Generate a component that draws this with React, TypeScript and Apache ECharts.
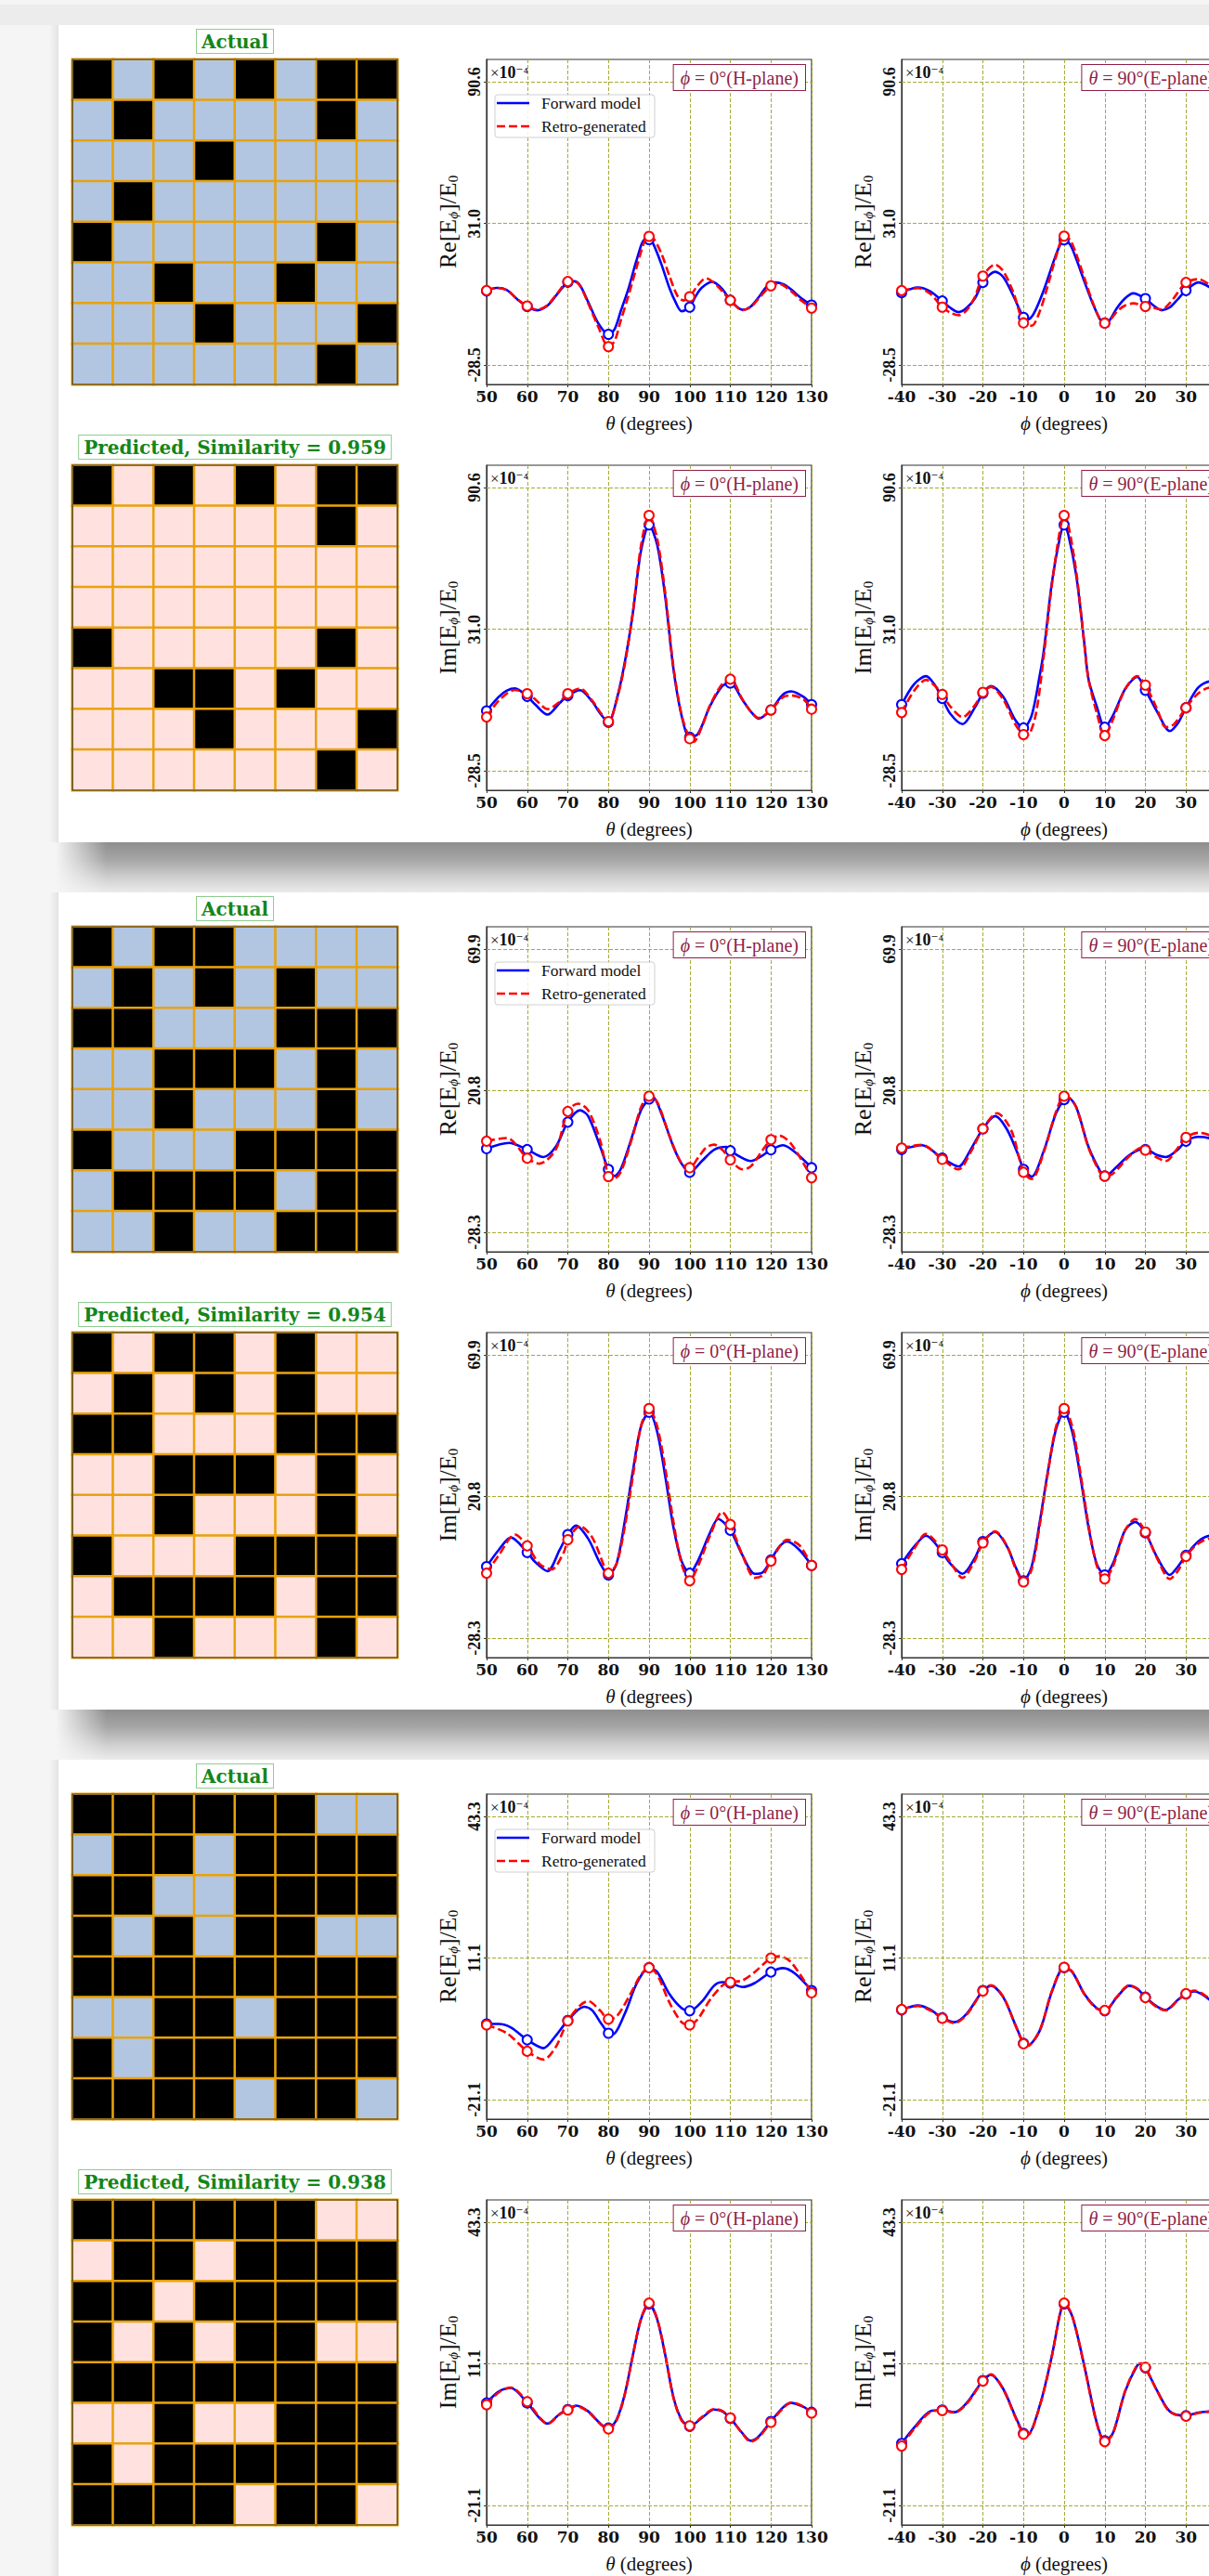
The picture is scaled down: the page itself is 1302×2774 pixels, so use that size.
import React, { useEffect, useRef } from "react";
import * as echarts from "echarts";

type Pt = [number, number];

// ---------------- data: binary patterns (1 = black) ----------------
const P1_ACTUAL = [
  [1, 0, 1, 0, 1, 0, 1, 1],
  [0, 1, 0, 0, 0, 0, 1, 0],
  [0, 0, 0, 1, 0, 0, 0, 0],
  [0, 1, 0, 0, 0, 0, 0, 0],
  [1, 0, 0, 0, 0, 0, 1, 0],
  [0, 0, 1, 0, 0, 1, 0, 0],
  [0, 0, 0, 1, 0, 0, 0, 1],
  [0, 0, 0, 0, 0, 0, 1, 0],
];
const P1_PREDICTED = [
  [1, 0, 1, 0, 1, 0, 1, 1],
  [0, 0, 0, 0, 0, 0, 1, 0],
  [0, 0, 0, 0, 0, 0, 0, 0],
  [0, 0, 0, 0, 0, 0, 0, 0],
  [1, 0, 0, 0, 0, 0, 1, 0],
  [0, 0, 1, 1, 0, 1, 0, 0],
  [0, 0, 0, 1, 0, 0, 0, 1],
  [0, 0, 0, 0, 0, 0, 1, 0],
];
const P2_ACTUAL = [
  [1, 0, 1, 1, 0, 0, 0, 0],
  [0, 1, 0, 1, 0, 1, 0, 0],
  [1, 1, 0, 0, 0, 1, 1, 1],
  [0, 0, 1, 1, 1, 0, 1, 0],
  [0, 0, 1, 0, 0, 0, 1, 0],
  [1, 0, 0, 0, 1, 1, 1, 1],
  [0, 1, 1, 1, 1, 0, 1, 1],
  [0, 0, 1, 0, 0, 1, 1, 1],
];
const P2_PREDICTED = [
  [1, 0, 1, 1, 0, 1, 0, 0],
  [0, 1, 0, 1, 0, 1, 0, 0],
  [1, 1, 0, 0, 0, 1, 1, 1],
  [0, 0, 1, 1, 1, 0, 1, 0],
  [0, 0, 1, 0, 0, 0, 1, 0],
  [1, 0, 0, 0, 1, 1, 1, 1],
  [0, 1, 1, 1, 1, 0, 1, 1],
  [0, 0, 1, 0, 0, 0, 1, 0],
];
const P3_ACTUAL = [
  [1, 1, 1, 1, 1, 1, 0, 0],
  [0, 1, 1, 0, 1, 1, 1, 1],
  [1, 1, 0, 0, 1, 1, 1, 1],
  [1, 0, 1, 0, 1, 1, 0, 0],
  [1, 1, 1, 1, 1, 1, 1, 1],
  [0, 0, 1, 1, 0, 1, 1, 1],
  [1, 0, 1, 1, 1, 1, 1, 1],
  [1, 1, 1, 1, 0, 1, 1, 0],
];
const P3_PREDICTED = [
  [1, 1, 1, 1, 1, 1, 0, 0],
  [0, 1, 1, 0, 1, 1, 1, 1],
  [1, 1, 0, 1, 1, 1, 1, 1],
  [1, 0, 1, 0, 1, 1, 0, 0],
  [1, 1, 1, 1, 1, 1, 1, 1],
  [0, 0, 1, 0, 0, 1, 1, 1],
  [1, 0, 1, 1, 1, 1, 1, 1],
  [1, 1, 1, 1, 0, 1, 1, 0],
];
const SIMILARITY = ["0.959", "0.954", "0.938"];

// ---------------- data: y tick labels (x1e-4) ----------------
const P1_Y_TICKS = [-28.5, 31.0, 90.6];
const P2_Y_TICKS = [-28.3, 20.8, 69.9];
const P3_Y_TICKS = [-21.1, 11.1, 43.3];
const H_RANGE = [50, 130];
const E_RANGE = [-40, 40];

// ---------------- data: curves [angle, value x1e-4] ----------------
const P1_RE_H_FWD: Pt[] = [[50,2.6],[52.5,3.9],[55,3.0],[57.5,-0.8],[60,-3.9],[62.5,-5.5],[65,-3.5],[67.5,1.5],[70,6.3],[71.5,6.7],[73,5.0],[75,-2.0],[77.5,-11.0],[80,-15.6],[81.5,-13.5],[83,-6.0],[85,4.0],[87,16.0],[89,24.3],[90,24.2],[91,22.5],[93,14.0],[95,3.9],[96.5,-2.0],[98,-5.9],[100,-4.2],[101.5,0.5],[103,4.0],[105.5,6.5],[108,3.5],[110,-1.3],[113,-5.3],[115,-4.0],[117,0.0],[119,4.5],[121,6.2],[123,5.5],[125,3.2],[127.5,-0.5],[130,-3.3]];
const P1_RE_H_RET: Pt[] = [[50,2.8],[52.5,3.9],[55,3.0],[57.5,-0.8],[60,-3.7],[62.5,-5.3],[65,-3.3],[67.5,1.8],[70,6.6],[71.5,6.8],[73,4.8],[75,-2.5],[77.5,-12.5],[80,-20.8],[81.5,-18.5],[83,-10.0],[85,1.0],[87,13.0],[89,24.0],[90,25.6],[91,25.0],[93,18.5],[95,9.0],[97,0.5],[98.5,-1.4],[100,0.2],[102,5.0],[104,8.0],[106,6.0],[108,2.5],[110,-1.3],[113,-5.5],[115,-4.2],[117,-0.5],[120,4.8],[122,5.6],[125,2.5],[127.5,-1.5],[130,-4.6]];
const P1_RE_E_FWD: Pt[] = [[-40,1.9],[-36,4.1],[-33,2.5],[-30,-1.6],[-28,-4.5],[-26,-6.3],[-24,-4.5],[-22,-0.6],[-20,6.2],[-17,10.7],[-15,8.5],[-12.5,0.5],[-10,-8.5],[-9,-9.4],[-7.5,-7.0],[-5,3.0],[-2.5,15.5],[-1,22.0],[0,24.1],[1.5,22.0],[3,16.0],[5,6.5],[7,-2.5],[9,-9.8],[10,-10.9],[11,-10.2],[13,-4.6],[15,-0.5],[17,1.6],[20,-0.6],[22,-3.5],[24,-5.5],[26,-4.3],[28,-0.8],[30,2.8],[33,6.2],[36,4.0],[38,1.0],[40,-2.0]];
const P1_RE_E_RET: Pt[] = [[-40,2.8],[-36,3.8],[-33,1.5],[-30,-4.2],[-28,-6.5],[-26,-7.6],[-24,-5.5],[-22,0.0],[-20,8.9],[-17,13.7],[-15,11.0],[-12.5,2.0],[-10,-10.8],[-8,-12.0],[-6,-6.0],[-4,5.0],[-2,17.0],[0,25.7],[1.5,24.0],[3,18.0],[5,8.0],[7,-2.0],[9,-10.0],[10,-10.9],[11,-10.3],[13,-6.0],[15,-3.5],[17,-2.6],[20,-3.9],[22,-4.5],[24,-5.2],[26,-2.5],[28,2.0],[30,6.2],[33,7.6],[36,5.0],[38,2.0],[40,-1.0]];
const P1_IM_H_FWD: Pt[] = [[50,-3.3],[53,2.6],[55,5.2],[57,6.1],[60,2.8],[62,-0.7],[65,-4.9],[68,0.0],[70,3.1],[73,5.4],[76,0.6],[78,-4.5],[80,-8.1],[82,1.3],[84,16.9],[86,37.8],[88,63.9],[90,74.9],[92,66.5],[94,44.3],[96,14.3],[98,-5.3],[100,-14.4],[102,-13.1],[105,-1.3],[108,7.1],[110,8.4],[113,1.3],[115,-3.5],[117,-6.6],[120,-2.9],[123,3.6],[125,4.9],[128,2.6],[130,-0.7]];
const P1_IM_H_RET: Pt[] = [[50,-5.9],[53,1.0],[57,5.5],[60,3.9],[62,1.5],[65,-2.6],[68,0.5],[70,3.9],[73,6.1],[76,1.0],[78,-4.0],[80,-7.8],[82,1.0],[84,16.0],[86,38.0],[88,66.0],[90,78.9],[92,69.0],[94,46.0],[96,15.0],[98,-5.0],[100,-15.0],[101,-16.3],[103,-10.0],[105,-1.0],[108,8.0],[110,10.0],[113,1.5],[115,-3.5],[117,-6.3],[120,-2.9],[123,2.5],[125,3.2],[128,1.5],[130,-2.6]];
const P1_IM_E_FWD: Pt[] = [[-40,-0.7],[-37,7.8],[-34,11.3],[-32,8.0],[-30,1.9],[-28,-4.6],[-25,-8.9],[-22,-2.0],[-20,4.1],[-18,7.1],[-15,2.6],[-12,-7.2],[-10,-10.5],[-8,-5.3],[-6,11.7],[-5,22.1],[-3,50.8],[-1,70.0],[0,74.9],[1,71.0],[3,53.4],[5,24.7],[6,10.0],[8,-1.3],[10,-10.2],[12,-5.3],[15,5.8],[18,11.0],[20,5.4],[23,-4.0],[26,-11.8],[28,-8.5],[30,-2.0],[33,6.5],[36,9.1],[38,7.0],[40,3.0]];
const P1_IM_E_RET: Pt[] = [[-40,-4.0],[-37,5.0],[-34,9.7],[-32,7.5],[-30,3.6],[-28,-1.5],[-25,-5.9],[-22,-1.0],[-20,4.5],[-18,6.8],[-15,1.5],[-12,-9.0],[-10,-13.3],[-9,-13.5],[-7,-5.0],[-5,20.0],[-3,50.0],[-1,73.0],[0,78.9],[1,75.0],[3,55.0],[5,24.0],[6,10.0],[8,-4.0],[10,-13.7],[12,-7.0],[15,5.8],[18,11.3],[20,7.5],[23,-3.0],[25,-10.2],[27,-9.0],[30,-2.0],[33,4.0],[36,6.5],[38,5.0],[40,2.0]];

const P2_RE_H_FWD: Pt[] = [[50,0.7],[55.5,2.7],[60,0.4],[64,-2.2],[67,1.3],[70,9.9],[73,14.0],[75,12.0],[78,1.3],[80,-6.5],[81.5,-8.8],[83,-6.5],[85,1.3],[88,14.0],[90,17.9],[91,18.5],[93,13.0],[96,1.3],[98,-4.5],[100,-7.5],[103,-3.6],[106,0.3],[109,1.3],[110,0.0],[113,-2.6],[115,-3.6],[118,-1.6],[120,0.3],[123,1.9],[126,-0.6],[130,-5.9]];
const P2_RE_H_RET: Pt[] = [[50,3.3],[55,4.4],[60,-2.6],[63,-4.5],[67,0.3],[70,13.6],[72.5,16.3],[75,14.0],[78,3.3],[80,-9.0],[81,-10.0],[83,-7.5],[86,5.2],[88,15.0],[90,18.9],[92,16.9],[95,5.2],[98,-4.5],[100,-5.9],[102,-2.6],[104,1.0],[106,2.1],[108,0.3],[110,-3.2],[113,-6.5],[115,-5.5],[118,0.3],[120,3.8],[122,5.2],[125,2.3],[130,-9.4]];
const P2_IM_H_FWD: Pt[] = [[50,-3.5],[53,2.3],[56,6.6],[60,1.4],[62,-2.0],[65,-5.1],[68,2.3],[70,7.6],[72,10.7],[75,6.2],[78,-2.5],[80,-6.4],[82,-2.5],[84,12.0],[86,29.5],[88,45.1],[90,50.0],[92,43.2],[94,27.6],[96,10.1],[98,-1.6],[100,-5.8],[102,-1.6],[105,8.2],[107,13.0],[110,9.1],[113,0.4],[116,-6.0],[118,-5.5],[120,-1.2],[122,3.3],[124,5.2],[127,2.3],[130,-3.1]];
const P2_IM_H_RET: Pt[] = [[50,-5.8],[53,0.4],[57,7.6],[60,3.7],[63,-2.5],[66,-4.5],[69,1.4],[70,5.8],[73,10.5],[76,6.6],[79,-3.5],[80,-5.8],[82,-2.5],[84,10.1],[86,27.6],[88,45.1],[90,51.3],[92,45.1],[94,30.5],[96,12.0],[98,-2.5],[100,-8.4],[102,-3.5],[105,7.2],[108,15.4],[110,11.1],[113,0.4],[116,-7.4],[118,-6.5],[120,-1.6],[124,5.8],[127,3.9],[130,-3.1]];
const P2_RE_E_FWD: Pt[] = [[-40,0.4],[-35,1.9],[-30,-2.6],[-26,-5.5],[-23,0.4],[-20,7.6],[-17,12.0],[-14,7.2],[-11,-2.6],[-10,-6.5],[-8,-9.0],[-5,0.0],[-2,13.0],[0,17.7],[1,18.3],[3,15.0],[6,1.3],[9,-7.5],[10,-8.8],[13,-5.5],[16,-1.6],[19,0.4],[20,0.4],[23,-1.6],[25,-2.2],[28,0.4],[30,3.3],[33,4.8],[36,4.2],[40,1.3]];
const P2_RE_E_RET: Pt[] = [[-40,0.9],[-35,2.0],[-30,-3.0],[-26,-6.5],[-23,-0.5],[-20,7.6],[-16.5,13.0],[-13,7.0],[-10,-7.5],[-8,-9.8],[-5,-0.5],[-2,13.5],[0,18.9],[1,18.7],[3,15.0],[6,1.0],[9,-8.0],[10,-8.8],[12,-8.0],[16,-2.0],[19,1.0],[20,0.2],[23,-2.5],[25,-3.6],[28,1.0],[30,4.6],[33,6.2],[36,5.2],[40,0.5]];
const P2_IM_E_FWD: Pt[] = [[-40,-2.5],[-37,3.3],[-34,7.2],[-30,1.4],[-28,-2.5],[-25,-6.0],[-22,-0.6],[-20,5.2],[-17,8.5],[-14,3.3],[-12,-3.5],[-10,-8.4],[-8,-3.5],[-6,12.0],[-4,29.5],[-2,44.1],[0,50.0],[2,43.2],[4,27.6],[6,10.1],[8,-2.5],[10,-6.4],[12,-2.5],[15,9.1],[17.5,12.0],[20,8.2],[23,-0.6],[26,-6.4],[28,-3.5],[30,0.4],[33,5.2],[36,7.2],[40,4.3]];
const P2_IM_E_RET: Pt[] = [[-40,-4.5],[-37,2.5],[-34,7.8],[-30,2.3],[-28,-2.0],[-25,-7.4],[-22,-1.5],[-20,4.7],[-17,8.7],[-14,3.5],[-12,-4.0],[-10,-8.8],[-8,-4.5],[-6,11.0],[-4,29.0],[-2,45.0],[0,51.3],[2,45.0],[4,29.0],[6,11.0],[8,-3.0],[10,-7.8],[12,-3.5],[15,9.0],[17.5,13.0],[20,8.5],[23,-1.0],[26,-7.8],[28,-5.0],[30,0.0],[33,4.5],[36,6.2],[40,3.5]];

const P3_RE_H_FWD: Pt[] = [[50,-3.9],[53,-3.9],[56,-4.7],[60,-7.5],[64,-9.4],[67,-6.6],[70,-3.1],[74,0.0],[76,-0.8],[78,-3.5],[80,-6.0],[81,-6.3],[84,-1.6],[87,5.4],[90,8.9],[92,7.9],[95,2.9],[98,-0.3],[100,-0.9],[103,1.2],[106,4.8],[108,5.6],[110,5.4],[113,4.5],[116,5.4],[120,7.9],[123,8.8],[126,7.5],[130,3.7]];
const P3_RE_H_RET: Pt[] = [[50,-4.1],[55,-6.0],[60,-10.1],[64,-12.0],[67,-9.2],[70,-3.2],[73,0.3],[75,1.3],[78,-0.9],[80,-2.8],[82,-2.2],[85,2.2],[88,7.3],[90,8.9],[92,7.3],[95,1.0],[98,-3.5],[100,-4.1],[102,-2.8],[105,1.6],[108,4.8],[110,5.6],[113,6.0],[116,7.9],[120,11.1],[122,11.5],[125,10.1],[130,3.2]];
const P3_IM_H_FWD: Pt[] = [[50,2.2],[53,4.8],[56,5.6],[60,2.2],[63,-1.2],[65,-2.5],[68,-0.3],[70,0.7],[72,1.6],[75,0.3],[78,-2.5],[80,-3.5],[82,-1.6],[84,4.1],[86,13.0],[88,21.2],[90,24.7],[92,21.2],[94,13.0],[96,3.5],[98,-1.6],[100,-3.1],[103,-1.2],[106,0.7],[108,0.3],[110,-1.3],[113,-4.7],[115,-6.4],[117,-5.4],[120,-2.0],[123,1.2],[125,2.2],[128,1.3],[130,0.1]];
const P3_IM_H_RET: Pt[] = [[50,1.8],[53,4.6],[56,5.7],[60,2.5],[63,-1.0],[65,-2.6],[68,-0.4],[70,0.6],[72,1.5],[75,0.2],[78,-2.6],[80,-3.7],[82,-1.8],[84,4.0],[86,13.0],[88,21.3],[90,24.9],[92,21.3],[94,13.1],[96,3.4],[98,-1.8],[100,-3.0],[103,-1.0],[106,0.8],[108,0.4],[110,-1.2],[113,-4.8],[115,-6.6],[117,-5.6],[120,-2.2],[123,1.0],[125,2.3],[128,1.4],[130,-0.1]];
const P3_RE_E_FWD: Pt[] = [[-40,-0.7],[-36,0.3],[-33,-0.6],[-30,-2.5],[-27,-3.5],[-24,-1.6],[-20,3.7],[-18,4.8],[-15,2.2],[-12,-4.1],[-10,-8.3],[-9,-8.8],[-6,-5.4],[-3,3.5],[0,8.9],[2,7.9],[5,2.9],[8,-0.3],[10,-0.9],[13,2.2],[16,4.8],[18,4.1],[20,2.2],[23,0.0],[25,-0.7],[28,1.6],[30,2.9],[32,3.5],[35,2.2],[38,-0.3],[40,-0.9]];
const P3_RE_E_RET: Pt[] = [[-40,-0.6],[-36,0.2],[-33,-0.8],[-30,-2.6],[-27,-3.7],[-24,-1.8],[-20,3.6],[-18,4.9],[-15,2.3],[-12,-4.2],[-10,-8.4],[-9,-8.9],[-6,-5.3],[-3,3.6],[0,9.0],[2,8.0],[5,2.8],[8,-0.4],[10,-0.8],[13,2.3],[16,4.9],[18,4.1],[20,2.1],[23,-0.2],[25,-0.8],[28,1.5],[30,3.0],[32,3.7],[35,2.4],[38,-0.2],[40,-1.0]];
const P3_IM_E_FWD: Pt[] = [[-40,-7.0],[-37,-3.5],[-33,0.3],[-30,0.6],[-27,0.1],[-24,2.2],[-20,7.3],[-18,8.6],[-15,5.4],[-12,-0.9],[-10,-4.7],[-9,-5.0],[-6,1.6],[-3,13.0],[-1,22.5],[0,24.7],[2,21.9],[5,10.5],[8,-2.2],[10,-6.4],[12,-4.7],[15,4.8],[18,10.7],[19,11.1],[20,10.2],[23,4.8],[26,0.3],[30,-0.7],[33,0.0],[36,0.3],[40,-0.9]];
const P3_IM_E_RET: Pt[] = [[-40,-7.6],[-37,-3.8],[-33,0.1],[-30,0.5],[-27,0.0],[-24,2.0],[-20,7.2],[-18,8.7],[-15,5.3],[-12,-1.1],[-10,-4.9],[-9,-5.1],[-6,1.5],[-3,13.0],[-1,22.6],[0,24.9],[2,22.0],[5,10.4],[8,-2.4],[10,-6.6],[12,-4.8],[15,4.9],[18,10.9],[19,11.2],[20,10.3],[23,4.7],[26,0.2],[30,-0.8],[33,-0.1],[36,0.2],[40,-1.0]];

const PANELS = [
  { actual: P1_ACTUAL, predicted: P1_PREDICTED, similarity: SIMILARITY[0], yTicks: P1_Y_TICKS,
    reH: [P1_RE_H_FWD, P1_RE_H_RET], imH: [P1_IM_H_FWD, P1_IM_H_RET], reE: [P1_RE_E_FWD, P1_RE_E_RET], imE: [P1_IM_E_FWD, P1_IM_E_RET] },
  { actual: P2_ACTUAL, predicted: P2_PREDICTED, similarity: SIMILARITY[1], yTicks: P2_Y_TICKS,
    reH: [P2_RE_H_FWD, P2_RE_H_RET], imH: [P2_IM_H_FWD, P2_IM_H_RET], reE: [P2_RE_E_FWD, P2_RE_E_RET], imE: [P2_IM_E_FWD, P2_IM_E_RET] },
  { actual: P3_ACTUAL, predicted: P3_PREDICTED, similarity: SIMILARITY[2], yTicks: P3_Y_TICKS,
    reH: [P3_RE_H_FWD, P3_RE_H_RET], imH: [P3_IM_H_FWD, P3_IM_H_RET], reE: [P3_RE_E_FWD, P3_RE_E_RET], imE: [P3_IM_E_FWD, P3_IM_E_RET] },
];

// ---------------- layout & style ----------------
const PANEL_X = 63;
const PANEL_Y0 = 27;
const PANEL_STEP = 934;
const PANEL_W = 1239;
const PANEL_H = 880;
const PLOT = 350;
const HEAT_LEFT = 15;
const COL1_LEFT = 461;
const COL2_LEFT = 908;
const ROW1_TOP = 37;
const ROW2_TOP = 474;
const CELL_IDX = ["0", "1", "2", "3", "4", "5", "6", "7"];

const SERIF = "'Liberation Serif', 'DejaVu Serif', serif";
const BOLD_SERIF = "'DejaVu Serif', 'Liberation Serif', serif";
const LIGHT_BLUE = "#b2c6e2";
const PINK = "#ffe1df";
const ORANGE = "#e8a20c";
const GREEN = "#13861a";
const GREEN_BOX = "#8fcc8f";
const MAROON = "#8f1f46";
const GRID_C = "#a6ab35";
const AXIS_C = "#333333";
const FWD_C = "#0000ff";
const RET_C = "#ff0000";
const TEXT_C = "#111111";

function buildOption(p: any) {
  const grid: any[] = [];
  const xAxis: any[] = [];
  const yAxis: any[] = [];
  const series: any[] = [];
  const graphic: any[] = [];
  const visualMap: any[] = [];

  const addHeat = (cells: number[][], light: string, top: number, label: string) => {
    grid.push({ left: HEAT_LEFT, top, width: PLOT, height: PLOT, show: false, containLabel: false, outerBoundsMode: "none" });
    const gi = grid.length - 1;
    xAxis.push({ type: "category", gridIndex: gi, data: CELL_IDX, show: false });
    yAxis.push({ type: "category", gridIndex: gi, data: CELL_IDX, inverse: true, show: false });
    const data: any[] = [];
    cells.forEach((row, r) => row.forEach((v, c) => data.push([c, r, v])));
    visualMap.push({
      type: "piecewise", show: false, seriesIndex: series.length, dimension: 2,
      pieces: [{ value: 0, color: light }, { value: 1, color: "#000000" }],
    });
    series.push({
      type: "heatmap", xAxisIndex: gi, yAxisIndex: gi, data, silent: true,
      itemStyle: { borderColor: ORANGE, borderWidth: 2.5 },
      emphasis: { disabled: true },
    });
    graphic.push({
      type: "rect", z: 100, silent: true,
      shape: { x: HEAT_LEFT, y: top, width: PLOT, height: PLOT },
      style: { fill: "none", stroke: "#3a3a3a", lineWidth: 1.2 },
    });
    graphic.push({
      type: "text", z: 100, x: HEAT_LEFT + PLOT / 2, y: top - 32,
      style: {
        text: label, align: "center", verticalAlign: "top",
        fontFamily: BOLD_SERIF, fontWeight: "bold", fontSize: 20, fill: GREEN,
        backgroundColor: "#ffffff", borderColor: GREEN_BOX, borderWidth: 1, padding: [3, 5, 2, 5],
      },
    });
  };

  const addLine = (
    left: number, top: number, pair: Pt[][], ticks: number[], xr: number[],
    yName: string, xName: string, title: string, withLegend: boolean, showMax: boolean
  ) => {
    const [tmin, , tmax] = ticks;
    const half = (tmax - tmin) / 2;
    const ymax = tmax + (half * 24) / 152.5;
    const ymin = tmin - (half * 21) / 152.5;
    grid.push({
      left, top, width: PLOT, height: PLOT, show: true, borderColor: AXIS_C, borderWidth: 1.2,
      backgroundColor: "transparent", containLabel: false, outerBoundsMode: "none",
    });
    const gi = grid.length - 1;
    xAxis.push({
      type: "value", gridIndex: gi, min: xr[0], max: xr[1], interval: 10,
      axisLine: { show: true, onZero: false, lineStyle: { color: AXIS_C, width: 1.2 } },
      axisTick: { show: true, length: 3, lineStyle: { color: AXIS_C } },
      axisLabel: { show: true, margin: 4, fontFamily: BOLD_SERIF, fontWeight: "bold", fontSize: 17, color: TEXT_C, showMinLabel: true, showMaxLabel: showMax },
      splitLine: { show: true, lineStyle: { color: GRID_C, type: [4, 2], width: 1 } },
      name: xName, nameLocation: "middle", nameGap: 31,
      nameTextStyle: {
        fontFamily: SERIF, fontSize: 21, color: TEXT_C,
        rich: { i: { fontFamily: SERIF, fontSize: 21, fontStyle: "italic", color: TEXT_C } },
      },
    });
    yAxis.push({
      type: "value", gridIndex: gi, min: ymin, max: ymax,
      axisLine: { show: true, onZero: false, lineStyle: { color: AXIS_C, width: 1.2 } },
      axisTick: { show: true, length: 3, customValues: ticks, lineStyle: { color: AXIS_C } },
      axisLabel: {
        show: true, customValues: ticks, rotate: 90, margin: 4,
        formatter: (v: number) => v.toFixed(1),
        fontFamily: SERIF, fontWeight: "bold", fontSize: 18, color: TEXT_C,
      },
      splitLine: { show: false },
      name: yName, nameLocation: "middle", nameGap: 29, nameRotate: 90,
      nameTextStyle: {
        fontFamily: SERIF, fontSize: 26, color: TEXT_C,
        rich: {
          s: { fontFamily: SERIF, fontSize: 15, fontStyle: "italic", color: TEXT_C, verticalAlign: "bottom" },
          z: { fontFamily: SERIF, fontSize: 15, color: TEXT_C, verticalAlign: "bottom" },
        },
      },
    });
    const mk = (pts: Pt[], color: string, dashed: boolean, z: number, withGrid: boolean) => {
      const s: any = {
        type: "line", xAxisIndex: gi, yAxisIndex: gi, z, smooth: 0.3, silent: true,
        showSymbol: true, showAllSymbol: true, symbolSize: 10,
        data: pts.map((pt) => ({ value: pt, symbol: pt[0] % 10 === 0 ? "emptyCircle" : "none" })),
        lineStyle: { color, width: 2.6, type: dashed ? [9, 4] : "solid" },
        itemStyle: { color, borderColor: color, borderWidth: 1.4 },
        emphasis: { disabled: true },
      };
      if (withGrid) {
        s.markLine = {
          silent: true, symbol: ["none", "none"], label: { show: false },
          lineStyle: { color: GRID_C, type: [4, 2], width: 1 },
          emphasis: { disabled: true },
          data: ticks.map((t) => ({ yAxis: t })),
        };
      }
      return s;
    };
    series.push(mk(pair[0], FWD_C, false, 3, true));
    series.push(mk(pair[1], RET_C, true, 4, false));

    graphic.push({
      type: "text", z: 100, x: left + 4, y: top + 14,
      style: {
        text: "{n|×}{b|10}{s|⁻⁴}", verticalAlign: "middle", align: "left",
        rich: {
          n: { fontFamily: SERIF, fontSize: 17, fill: TEXT_C },
          b: { fontFamily: SERIF, fontSize: 18, fontWeight: "bold", fill: TEXT_C },
          s: { fontFamily: SERIF, fontSize: 15, fill: TEXT_C },
        },
      },
    });
    graphic.push({
      type: "text", z: 100, x: left + PLOT - 7, y: top + 6,
      style: {
        text: title, align: "right", verticalAlign: "top",
        fontFamily: SERIF, fontSize: 20, fill: MAROON,
        rich: {
          i: { fontFamily: SERIF, fontSize: 20, fontStyle: "italic", fill: MAROON },
          r: { fontFamily: SERIF, fontSize: 20, fill: MAROON },
        },
        backgroundColor: "#ffffff", borderColor: MAROON, borderWidth: 1, padding: [4, 7, 3, 7],
      },
    });
    if (withLegend) {
      const lx = left + 9;
      const ly = top + 38;
      graphic.push(
        { type: "rect", z: 100, shape: { x: lx, y: ly, width: 172, height: 46, r: 3 }, style: { fill: "rgba(255,255,255,0.85)", stroke: "#d0d0d0", lineWidth: 1 } },
        { type: "line", z: 101, shape: { x1: lx + 2, y1: ly + 9, x2: lx + 37, y2: ly + 9 }, style: { stroke: FWD_C, lineWidth: 2.6 } },
        { type: "text", z: 101, x: lx + 50, y: ly + 9, style: { text: "Forward model", fontFamily: SERIF, fontSize: 17.5, fill: TEXT_C, verticalAlign: "middle" } },
        { type: "line", z: 101, shape: { x1: lx + 2, y1: ly + 34, x2: lx + 37, y2: ly + 34 }, style: { stroke: RET_C, lineWidth: 2.6, lineDash: [9, 4] } },
        { type: "text", z: 101, x: lx + 50, y: ly + 34, style: { text: "Retro-generated", fontFamily: SERIF, fontSize: 17.5, fill: TEXT_C, verticalAlign: "middle" } }
      );
    }
  };

  addHeat(p.actual, LIGHT_BLUE, ROW1_TOP, "Actual");
  addHeat(p.predicted, PINK, ROW2_TOP, `Predicted, Similarity = ${p.similarity}`);

  const hTitle = "{i|ϕ}{r| = 0°(H-plane)}";
  const eTitle = "{i|θ}{r| = 90°(E-plane)}";
  const thetaName = "{i|θ} (degrees)";
  const phiName = "{i|ϕ} (degrees)";
  const reName = "Re[E{s|ϕ}]/E{z|0}";
  const imName = "Im[E{s|ϕ}]/E{z|0}";

  addLine(COL1_LEFT, ROW1_TOP, p.reH, p.yTicks, H_RANGE, reName, thetaName, hTitle, true, true);
  addLine(COL1_LEFT, ROW2_TOP, p.imH, p.yTicks, H_RANGE, imName, thetaName, hTitle, false, true);
  addLine(COL2_LEFT, ROW1_TOP, p.reE, p.yTicks, E_RANGE, reName, phiName, eTitle, false, false);
  addLine(COL2_LEFT, ROW2_TOP, p.imE, p.yTicks, E_RANGE, imName, phiName, eTitle, false, false);

  return {
    animation: false,
    backgroundColor: "transparent",
    grid, xAxis, yAxis, series, visualMap,
    graphic: { elements: graphic },
  };
}

export default function App() {
  const r0 = useRef<HTMLDivElement>(null);
  const r1 = useRef<HTMLDivElement>(null);
  const r2 = useRef<HTMLDivElement>(null);
  const refs = [r0, r1, r2];

  useEffect(() => {
    const charts = refs.map((r, k) => {
      const c = echarts.init(r.current as HTMLDivElement, undefined, { renderer: "svg" });
      c.setOption(buildOption(PANELS[k]) as any);
      return c;
    });
    return () => charts.forEach((c) => c.dispose());
  }, []);

  return (
    <div style={{ position: "absolute", left: 0, top: 0, width: 1302, height: 2774, overflow: "hidden", background: "#f5f5f5" }}>
      <div style={{ position: "absolute", left: 0, top: 5, width: 1302, height: 22, background: "#ececec" }} />
      {PANELS.map((_, k) => {
        const top = PANEL_Y0 + PANEL_STEP * k;
        return (
          <React.Fragment key={k}>
            <div style={{ position: "absolute", left: 53, top, width: 10, height: PANEL_H, background: "linear-gradient(to right, #f5f5f5, #e3e3e3)" }} />
            <div ref={refs[k]} style={{ position: "absolute", left: PANEL_X, top, width: PANEL_W, height: PANEL_H, background: "#ffffff" }} />
            <div style={{ position: "absolute", left: PANEL_X - 3, top: top + PANEL_H, width: PANEL_W + 3, height: 54, background: "linear-gradient(to bottom, #8e8e8e 0%, #a6a6a6 35%, #cfcfcf 70%, #ebebeb 100%)" }} />
            <div style={{ position: "absolute", left: PANEL_X - 3, top: top + PANEL_H, width: 55, height: 54, background: "linear-gradient(to right, #f5f5f5, rgba(245,245,245,0))" }} />
          </React.Fragment>
        );
      })}
    </div>
  );
}
